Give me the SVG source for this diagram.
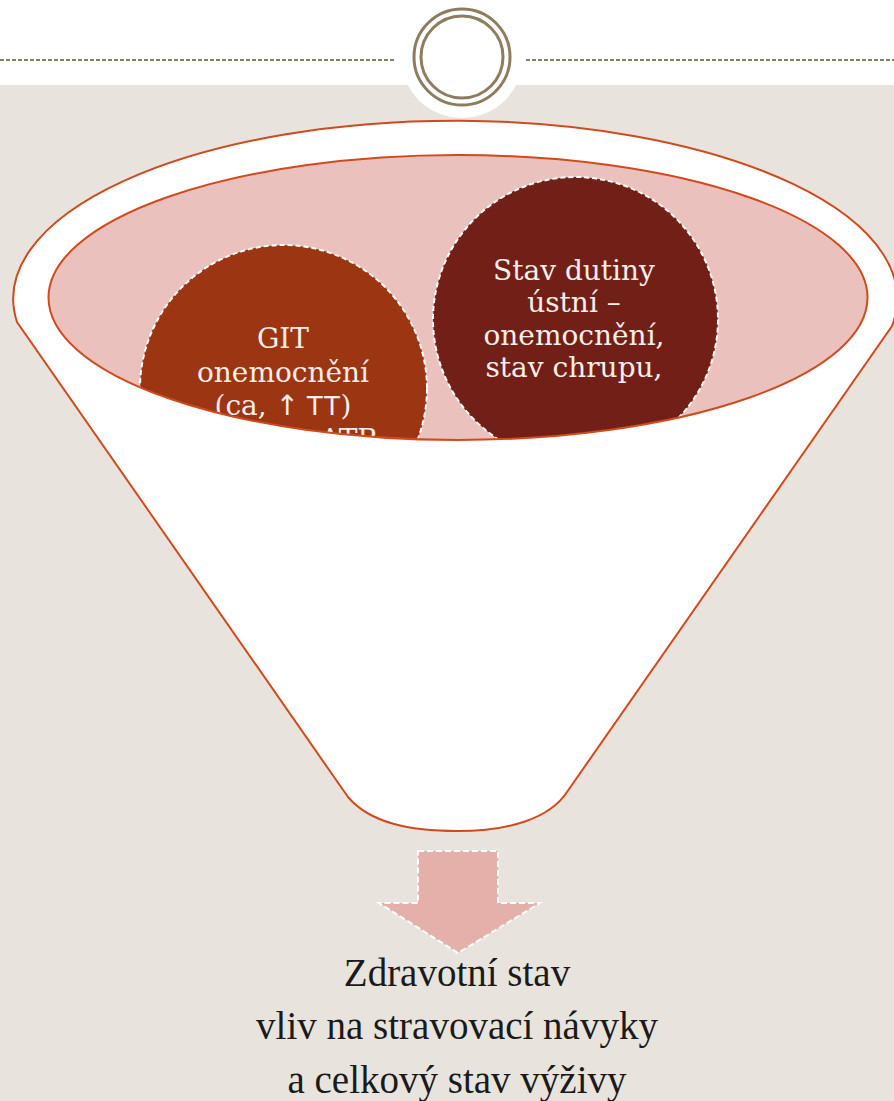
<svg xmlns="http://www.w3.org/2000/svg" width="894" height="1101" viewBox="0 0 894 1101">
<style>
.ctext{font-family:"DejaVu Serif","Liberation Serif",serif;font-size:28px;fill:#F7EEEA;text-anchor:middle}
.sans{font-family:"Liberation Sans",Arial,sans-serif}
.arrow{font-family:"DejaVu Sans",sans-serif}
.btext{font-family:"Liberation Serif","DejaVu Serif",serif;font-size:39px;fill:#1A1A1A;text-anchor:middle}
.outline{stroke:#D2491C;stroke-width:2}
.dash{stroke:#FFFFFF;stroke-width:2;stroke-dasharray:5 3;fill:none}
</style>
<defs>
<clipPath id="inner"><ellipse cx="458" cy="297.5" rx="409.5" ry="142.5"/></clipPath>
</defs>
<rect x="0" y="0" width="894" height="1101" fill="#E8E4DD"/>
<rect x="0" y="0" width="894" height="85" fill="#FFFFFF"/>
<g id="header">
<line x1="0" y1="60" x2="396" y2="60" stroke="#8F7C5E" stroke-width="2" stroke-dasharray="4 2"/>
<line x1="526" y1="60" x2="894" y2="60" stroke="#8F7C5E" stroke-width="2" stroke-dasharray="4 2"/>
<circle cx="462" cy="57" r="61" fill="#FFFFFF"/>
<circle cx="462" cy="57" r="48" fill="none" stroke="#8F7C5E" stroke-width="3"/>
<circle cx="462" cy="57" r="41" fill="none" stroke="#8F7C5E" stroke-width="3"/>
</g>
<g id="funnel">
<path class="outline" fill="#FFFFFF" d="M17,322 A442,178 0 1 1 892,326 L567,792 C550,818 510,831 458,831 C410,831 370,823 348,797 Z"/>
<ellipse cx="458" cy="297.5" rx="409.5" ry="142.5" fill="#EAC1BD"/>
</g>
<g id="node-git" clip-path="url(#inner)">
<circle cx="283.5" cy="388.5" r="143.5" fill="#9C3512"/>
<circle cx="283.5" cy="388.5" r="143.5" class="dash"/>
<text class="ctext" x="283" y="348">GIT</text>
<text class="ctext" x="283" y="382">onemocnění</text>
<text class="ctext" x="283" y="415">(ca, <tspan class="arrow">↑</tspan><tspan class="sans"> TT</tspan>)</text>
<text class="ctext" x="320" y="449" style="text-anchor:start">ATB</text>
</g>
<g id="node-dutina" clip-path="url(#inner)">
<circle cx="575.5" cy="319.5" r="142.5" fill="#722017"/>
<circle cx="575.5" cy="319.5" r="142.5" class="dash"/>
<text class="ctext" x="574" y="280">Stav dutiny</text>
<text class="ctext" x="574" y="312">ústní –</text>
<text class="ctext" x="574" y="345">onemocnění,</text>
<text class="ctext" x="574" y="377">stav chrupu,</text>
</g>
<g id="funnel-rim">
<ellipse cx="458" cy="297.5" rx="409.5" ry="142.5" fill="none" class="outline"/>
</g>
<g id="connectors">
<polygon points="418,851 498,851 498,903 540,903 458,953 379,903 418,903" fill="#E6B0AA" stroke="#FFFFFF" stroke-width="2" stroke-dasharray="6 3"/>
</g>
<g id="node-result">
<text class="btext" x="457" y="986">Zdravotní stav</text>
<text class="btext" x="457" y="1039">vliv na stravovací návyky</text>
<text class="btext" x="457" y="1093">a celkový stav výživy</text>
</g>
</svg>
